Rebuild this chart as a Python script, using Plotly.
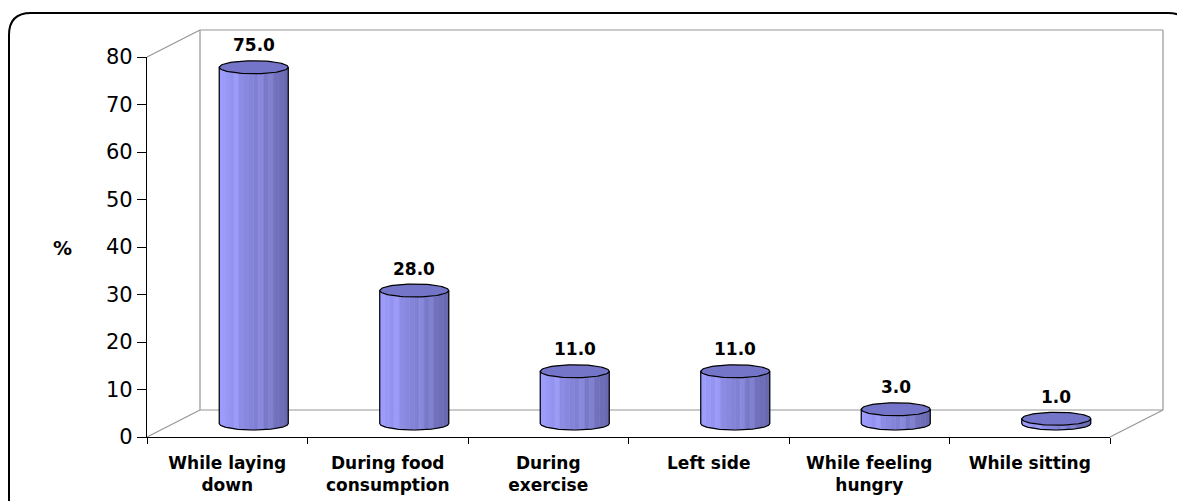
import numpy as np
import plotly.graph_objects as go

categories = ["While laying<br>down", "During food<br>consumption", "During<br>exercise",
              "Left side", "While feeling<br>hungry", "While sitting"]
values = [75.0, 28.0, 11.0, 11.0, 3.0, 1.0]
y_ticks = [0, 10, 20, 30, 40, 50, 60, 70, 80]

W, H = 1185, 501
OFF = 8                 # page body margin compensation
X0, X1 = 147 - OFF, 1110 - OFF   # front plane x extent (figure px)
Y0, Y1 = 437 - OFF, 57 - OFF     # y pixel of 0 and 80
YMAX = 80
NCAT = len(categories)
DEPTH = (53, 27)        # back-wall offset in pixels

pxcat = (X1 - X0) / NCAT
pxunit = (Y0 - Y1) / YMAX

dxc = DEPTH[0] / 2 / pxcat
dyc = DEPTH[1] / 2 / pxunit
a = 34.5 / pxcat
b = 6.5 / pxunit

def to_paper(xd, yd):
    xp = X0 + (xd + 0.5) * pxcat
    yp = Y0 - yd * pxunit
    return xp / W, 1 - yp / H

fig = go.Figure()

NS = 14
c_left = np.array([158, 158, 255])
c_right = np.array([104, 104, 176])
t = np.linspace(-1, 1, 60)

for k in range(NS):
    xs, ys = [], []
    u0 = -1 + 2 * k / NS
    u1 = -1 + 2 * (k + 1) / NS
    uu = np.linspace(u0, u1, 6)
    for i, v in enumerate(values):
        c = i + dxc
        yb = dyc
        yt = v + dyc
        xb = c + a * uu
        bot = yb - b * np.sqrt(np.clip(1 - uu ** 2, 0, 1))
        top = yt - b * np.sqrt(np.clip(1 - uu ** 2, 0, 1))
        xs += list(xb) + list(xb[::-1]) + [xb[0], None]
        ys += list(bot) + list(top[::-1]) + [bot[0], None]
    f = (k + 0.5) / NS
    col = c_left * (1 - f) + c_right * f
    if k in (3, 8, 10):
        col = np.minimum(col + 12, 255)
    cs = "rgb(%d,%d,%d)" % tuple(col.astype(int))
    fig.add_trace(go.Scatter(x=xs, y=ys, fill="toself", mode="lines",
                             line=dict(width=0.6, color=cs), fillcolor=cs,
                             hoverinfo="skip", showlegend=False))

ox, oy, tx, ty = [], [], [], []
for i, v in enumerate(values):
    c = i + dxc
    yb = dyc
    yt = v + dyc
    xb = c + a * t
    bot = yb - b * np.sqrt(1 - t ** 2)
    ox += [c - a] + list(xb) + [c + a, None]
    oy += [yt] + list(bot) + [yt, None]
    th = np.linspace(0, 2 * np.pi, 80)
    tx += list(c + a * np.cos(th)) + [None]
    ty += list(yt + b * np.sin(th)) + [None]

fig.add_trace(go.Scatter(x=tx, y=ty, fill="toself", mode="lines",
                         line=dict(color="black", width=1.2), fillcolor="rgb(116,116,200)",
                         hoverinfo="skip", showlegend=False))
fig.add_trace(go.Scatter(x=ox, y=oy, mode="lines", line=dict(color="black", width=1.2),
                         hoverinfo="skip", showlegend=False))

for i, v in enumerate(values):
    fig.add_annotation(x=i + dxc, y=v + dyc, text="<b>%.1f</b>" % v, showarrow=False,
                       yshift=22, font=dict(family="DejaVu Sans", size=17, color="black"))

gray = dict(color="rgb(150,150,150)", width=1.2)
def seg(p, q):
    fig.add_shape(type="line", xref="paper", yref="paper",
                  x0=p[0], y0=p[1], x1=q[0], y1=q[1], line=gray, layer="below")

ddx, ddy = DEPTH[0] / pxcat, DEPTH[1] / pxunit
xl, xr = -0.5, NCAT - 0.5
fl = to_paper(xl, 0); flt = to_paper(xl, YMAX); fr = to_paper(xr, 0)
bl = to_paper(xl + ddx, ddy); blt = to_paper(xl + ddx, YMAX + ddy)
br = to_paper(xr + ddx, ddy); brt = to_paper(xr + ddx, YMAX + ddy)
seg(flt, blt); seg(fl, bl); seg(fr, br)
seg(bl, blt); seg(br, brt); seg(blt, brt); seg(bl, br)

r = 22
x_a, y_a, x_b, y_b = 1, 5, 1182, 505
path = (f"M {x_a/W},{1-(y_a+r)/H} "
        f"Q {x_a/W},{1-y_a/H} {(x_a+r)/W},{1-y_a/H} "
        f"L {(x_b-r)/W},{1-y_a/H} "
        f"Q {x_b/W},{1-y_a/H} {x_b/W},{1-(y_a+r)/H} "
        f"L {x_b/W},{1-y_b/H} L {x_a/W},{1-y_b/H} Z")
fig.add_shape(type="path", xref="paper", yref="paper", path=path,
              line=dict(color="black", width=2), layer="below")

fig.add_annotation(x=(62 - OFF) / W, y=1 - (248 - OFF) / H, xref="paper", yref="paper",
                   xanchor="center", yanchor="middle", text="<b>%</b>",
                   showarrow=False, font=dict(family="DejaVu Sans", size=19, color="black"))

fig.update_layout(
    width=W, height=H, margin=dict(l=0, r=0, t=0, b=0, autoexpand=False),
    paper_bgcolor="white", plot_bgcolor="rgba(0,0,0,0)",
    xaxis=dict(domain=[X0 / W, X1 / W], range=[-0.5, NCAT - 0.5], automargin=False,
               tickvals=list(range(NCAT)), ticktext=["<b>%s</b>" % c for c in categories],
               ticks="", showgrid=False, zeroline=False, showline=True, linecolor="black",
               linewidth=1.2, tickfont=dict(family="DejaVu Sans", size=17, color="black"),
               minor=dict(tickvals=[i - 0.5 for i in range(NCAT + 1)], ticks="outside",
                          ticklen=6, tickcolor="black", tickwidth=1.2, showgrid=False),
               ticklabelstandoff=10, fixedrange=True),
    yaxis=dict(domain=[1 - Y0 / H, 1 - Y1 / H], range=[0, YMAX], tickvals=y_ticks,
               automargin=False,
               ticks="outside", ticklen=9, tickcolor="black", tickwidth=1.2,
               showgrid=False, zeroline=False, showline=True, linecolor="black", linewidth=1.2,
               tickfont=dict(family="DejaVu Sans", size=21, color="black"),
               ticklabelstandoff=0, fixedrange=True),
)

fig.write_html("out.html")
